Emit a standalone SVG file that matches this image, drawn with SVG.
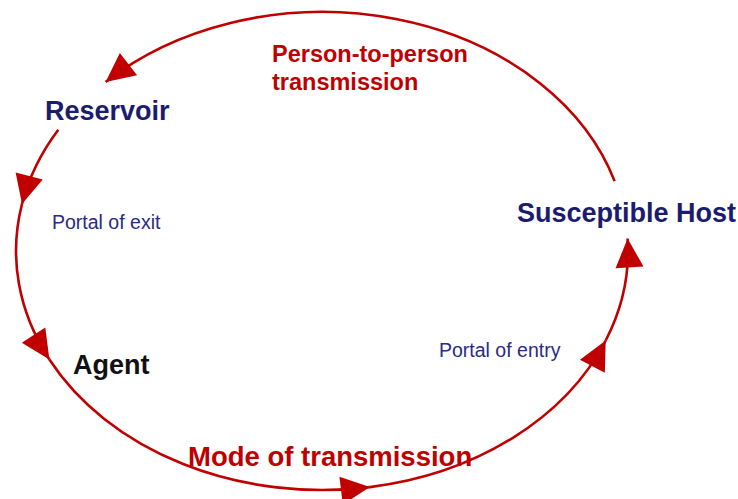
<svg xmlns="http://www.w3.org/2000/svg" width="738" height="499" viewBox="0 0 738 499">
<style>
.conn{fill:none;stroke:#C00000;stroke-width:2.6;marker-end:url(#arr)}
.node{font-family:"Liberation Sans",Arial,sans-serif;font-weight:bold;font-size:27px}
.navy{fill:#1B1B70}
.red{fill:#C00000}
.black{fill:#111111}
.small{font-family:"Liberation Sans",Arial,sans-serif;font-size:19.5px;fill:#2A2A85}
.lab{font-family:"Liberation Sans",Arial,sans-serif;font-weight:bold;fill:#C00000}
</style>
<defs>
<marker id="arr" markerUnits="userSpaceOnUse" markerWidth="32" markerHeight="32" refX="29" refY="14" orient="auto" overflow="visible">
<path d="M0,0 L29,14 L0,28 Z" fill="#C00000"/>
</marker>
</defs>
<rect width="738" height="499" fill="#FFFFFF"/>
<g id="connectors">
<path class="conn" d="M614.6,181.1 A306,239 0 0 0 105.6,82.0"/>
<path class="conn" d="M58.3,129.7 A306,239 0 0 0 22,204"/>
<path class="conn" d="M22,204 A306,239 0 0 0 49.4,359.5"/>
<path class="conn" d="M49.4,359.5 A306,239 0 0 0 369.9,487.1"/>
<path class="conn" d="M369.9,487.1 A306,239 0 0 0 605.7,340.5"/>
<path class="conn" d="M605.7,340.5 A306,239 0 0 0 627.6,238.5"/>
</g>
<g id="label-person-to-person">
<text class="lab" font-size="23.5" x="272" y="62">Person-to-person</text>
<text class="lab" font-size="23.5" x="272" y="90">transmission</text>
</g>
<g id="node-reservoir"><text class="node navy" x="45" y="120">Reservoir</text></g>
<g id="node-susceptible-host"><text class="node navy" x="517" y="222">Susceptible Host</text></g>
<g id="node-agent"><text class="node black" x="73" y="374">Agent</text></g>
<g id="label-portal-exit"><text class="small" x="52" y="229">Portal of exit</text></g>
<g id="label-portal-entry"><text class="small" x="439" y="357">Portal of entry</text></g>
<g id="label-mode"><text class="lab" font-size="27.5" x="188" y="466">Mode of transmission</text></g>
</svg>
